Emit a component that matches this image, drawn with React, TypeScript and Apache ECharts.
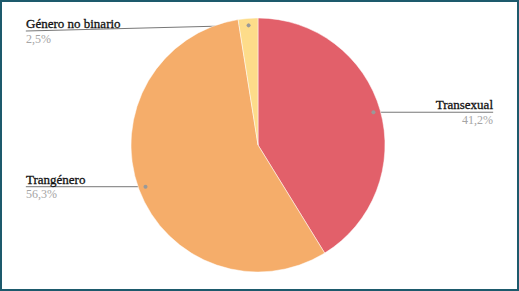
import React, { useEffect, useRef } from "react";
import * as echarts from "echarts";

const categories = ["Transexual", "Trangénero", "Género no binario"];
const values = [41.2, 56.3, 2.5];
const colors = ["#E2606A", "#F5AD6A", "#FDDC8A"];

const CX = 258;
const CY = 145;
const R = 127;
const INSET = 7;

function startPoints() {
  const total = values.reduce((a, b) => a + b, 0);
  let acc = 0;
  return values.map((v) => {
    const mid = (acc + v / 2) / total;
    acc += v;
    const a = mid * Math.PI * 2;
    const r = R - INSET;
    return [CX + r * Math.sin(a), CY - r * Math.cos(a)];
  });
}

export default function App() {
  const ref = useRef<HTMLDivElement>(null);
  useEffect(() => {
    if (!ref.current) return;
    const chart = echarts.init(ref.current, null, { renderer: "svg" });
    const pts = startPoints();
    chart.setOption({
      animation: false,
      backgroundColor: "#ffffff",
      graphic: [
        {
          type: "rect",
          shape: { x: 1, y: 1, width: 517, height: 289 },
          style: { fill: "none", stroke: "#1d5a6c", lineWidth: 2 },
          z: 100,
        },
        ...pts.map((p) => ({
          type: "circle",
          shape: { cx: p[0], cy: p[1], r: 2 },
          style: { fill: "#999999" },
          z: 100,
        })),
      ],
      series: [
        {
          type: "pie",
          center: [CX, CY],
          radius: R,
          startAngle: 90,
          clockwise: true,
          data: categories.map((c, i) => ({
            name: c,
            value: values[i],
            itemStyle: { color: colors[i] },
          })),
          itemStyle: { borderColor: "#ffffff", borderWidth: 0.5 },
          label: {
            alignTo: "edge",
            edgeDistance: 26,
            minMargin: 5,
            lineHeight: 15,
            formatter: (p: any) =>
              `{name|${p.name}}\n{val|${String(p.value).replace(".", ",")}%}`,
            rich: {
              name: {
                fontFamily: "Liberation Serif",
                fontSize: 13,
                fontWeight: "normal",
                color: "#111111",
                lineHeight: 15,
                textBorderColor: "#111111",
                textBorderWidth: 0.3,
              },
              val: {
                fontFamily: "Liberation Serif",
                fontSize: 12,
                color: "#a5a5a5",
                lineHeight: 15,
              },
            },
          },
          labelLine: {
            length: 0.01,
            length2: 0,
            lineStyle: { color: "#777777", width: 1 },
          },
          labelLayout: (params: any) => {
            const i = params.dataIndex;
            const s = pts[i];
            const isLeft = params.labelRect.x < CX;
            const y = Math.max(s[1], 31);
            const endX = isLeft
              ? params.labelRect.x
              : params.labelRect.x + params.labelRect.width;
            return {
              y,
              labelLinePoints: [
                [s[0], s[1]],
                [s[0], s[1]],
                [endX, y],
              ],
            };
          },
        },
      ],
    });
    return () => chart.dispose();
  }, []);
  return (
    <div
      ref={ref}
      style={{ position: "absolute", left: 0, top: 0, width: 519, height: 291 }}
    />
  );
}
